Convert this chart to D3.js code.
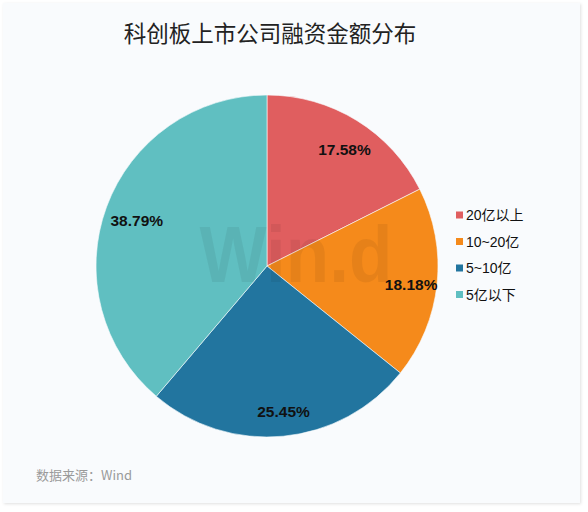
<!DOCTYPE html>
<html><head><meta charset="utf-8">
<script src="https://cdn.jsdelivr.net/npm/d3@7"></script>
<style>
html,body{margin:0;padding:0;background:#fff;}
svg{display:block;font-family:"Liberation Sans",Arial,sans-serif;}
</style></head>
<body>
<svg id="c" width="588" height="512"></svg>
<script>
const categories = ["20亿以上", "10~20亿", "5~10亿", "5亿以下"];
const values = [17.58, 18.18, 25.45, 38.79];
const colors = ["#e05e5f", "#f58a1b", "#22759f", "#60bfc1"];
const title = "科创板上市公司融资金额分布";
const source = "数据来源：Wind";

const svg = d3.select("#c");
const defs = svg.append("defs");
const f = defs.append("filter").attr("id","sh").attr("x","-5%").attr("y","-5%").attr("width","110%").attr("height","110%");
f.append("feDropShadow").attr("dx",1).attr("dy",1).attr("stdDeviation",1.5).attr("flood-color","#000").attr("flood-opacity",0.12);

svg.append("rect").attr("x",3).attr("y",3).attr("width",577).attr("height",500)
  .attr("fill","#f9fbfd").attr("filter","url(#sh)");

svg.append("text").attr("x",270).attr("y",42).attr("text-anchor","middle")
  .attr("font-family","'Noto Sans CJK SC',sans-serif").attr("font-size",22.5)
  .attr("fill","#222").text(title);

const cx = 267, cy = 266, R = 171;
const g = svg.append("g").attr("transform",`translate(${cx},${cy})`);
const pie = d3.pie().sort(null).value(d=>d)(values);
const arc = d3.arc().innerRadius(0).outerRadius(R);
const color = d3.scaleOrdinal().domain(categories).range(colors);
g.selectAll("path").data(pie).join("path")
  .attr("d",arc).attr("fill",(d,i)=>color(categories[i]))
  .attr("stroke","#f9fbfd").attr("stroke-width",0.6);

// watermark
svg.append("text").attr("x",296).attr("y",282).attr("text-anchor","middle")
  .attr("font-family","'Liberation Sans',Arial,sans-serif").attr("font-weight","bold")
  .attr("font-size",80).attr("textLength",193).attr("lengthAdjust","spacingAndGlyphs")
  .attr("fill","#000").attr("fill-opacity",0.06).text("Win.d");

const labelArc = d3.arc().innerRadius(R*0.83).outerRadius(R*0.83);
g.selectAll("text.lab").data(pie).join("text").attr("class","lab")
  .attr("transform",d=>{const c=labelArc.centroid(d);return `translate(${c[0]+3},${c[1]+4})`;})
  .attr("text-anchor","middle").attr("dy","0.35em")
  .attr("font-size",15.5).attr("font-weight","bold").attr("fill","#111")
  .text(d=>d.value.toFixed(2)+"%");

// legend
const lg = svg.append("g").attr("transform","translate(456,215)");
const items = lg.selectAll("g").data(categories).join("g")
  .attr("transform",(d,i)=>`translate(0,${i*26.5})`);
items.append("rect").attr("x",0).attr("y",-3.5).attr("width",7).attr("height",7).attr("fill",d=>color(d));
items.append("text").attr("x",10).attr("dy","0.36em").attr("font-size",14)
  .attr("font-family","'Liberation Sans','Noto Sans CJK SC',sans-serif").attr("fill","#111").text(d=>d);

svg.append("text").attr("x",36).attr("y",480)
  .attr("font-family","'Noto Sans CJK SC',sans-serif").attr("font-size",13)
  .attr("fill","#9a9a9a").text(source);
</script>
</body></html>
